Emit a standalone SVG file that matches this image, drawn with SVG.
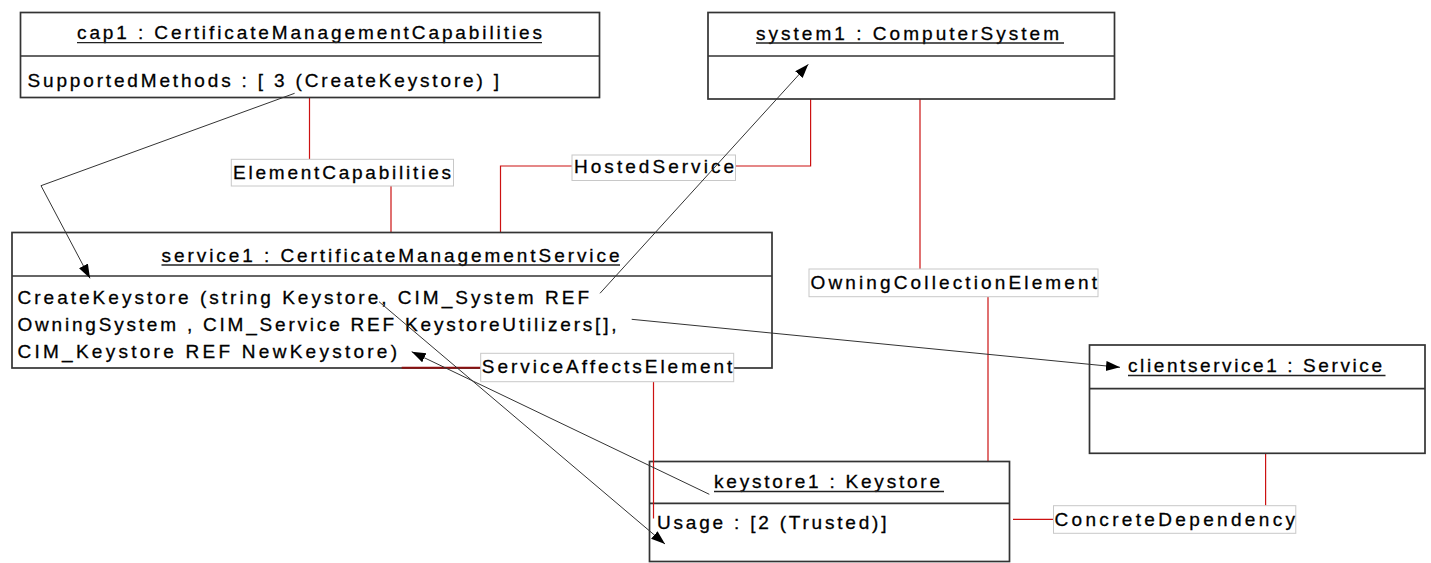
<svg xmlns="http://www.w3.org/2000/svg" width="1431" height="563" viewBox="0 0 1431 563">
  <style>
    text { font-family: "Liberation Sans", Arial, sans-serif; font-size: 19px; fill: #000; stroke: #000; stroke-width: 0.3; }
    .ul { stroke: #222; stroke-width: 1.4; }
    .box { fill: #fff; stroke: #333; stroke-width: 1.7; }
    .div { stroke: #333; stroke-width: 1.7; }
    .lbl { fill: #fff; stroke: #c8c8c8; stroke-width: 1; }
    .assoc { fill: none; stroke: #cc1111; stroke-width: 1.2; }
    .assoc-dark { fill: none; stroke: #8b1010; stroke-width: 2; }
    .flow { fill: none; stroke: #333; stroke-width: 1; marker-end: url(#arrow); }
  </style>
  <defs>
    <marker id="arrow" markerUnits="userSpaceOnUse" markerWidth="16" markerHeight="12" refX="14" refY="5" orient="auto">
      <path d="M0,0 L14,5 L0,10 z" fill="#000"/>
    </marker>
  </defs>

  <rect width="1431" height="563" fill="#fff"/>

  <!-- association lines (drawn under the nodes) -->
  <g id="connectors">
    <!-- ElementCapabilities -->
    <path class="assoc" d="M309.5,97 V159.3"/>
    <path class="assoc" d="M391,186 V232.5"/>
    <!-- HostedService -->
    <path class="assoc" d="M500.5,232.5 V166 H572"/>
    <path class="assoc" d="M735.5,166 H810.6 V99"/>
    <!-- OwningCollectionElement -->
    <path class="assoc" d="M920,99 V269"/>
    <path class="assoc" d="M988,297 V469"/>
    <!-- ConcreteDependency -->
    <path class="assoc" d="M1013,519.3 H1053.5"/>
    <path class="assoc" d="M1265.6,453.3 V505.7"/>
  </g>

  <!-- cap1 -->
  <g id="cap1">
    <rect class="box" x="20.5" y="12.5" width="579" height="85"/>
    <line class="div" x1="20.5" y1="56" x2="599.5" y2="56"/>
    <text x="77" y="39" textLength="465" lengthAdjust="spacing">cap1 : CertificateManagementCapabilities</text>
    <line class="ul" x1="77" y1="42.6" x2="542" y2="42.6"/>
    <text x="27.5" y="87" textLength="471.5" lengthAdjust="spacing">SupportedMethods : [ 3 (CreateKeystore) ]</text>
  </g>

  <!-- system1 -->
  <g id="system1">
    <rect class="box" x="708" y="12.5" width="406.5" height="86.5"/>
    <line class="div" x1="708" y1="56" x2="1114.5" y2="56"/>
    <text x="756" y="39.5" textLength="303" lengthAdjust="spacing">system1 : ComputerSystem</text>
    <line class="ul" x1="756" y1="43" x2="1064" y2="43"/>
  </g>

  <!-- service1 -->
  <g id="service1">
    <rect class="box" x="12" y="232.5" width="760" height="135.5"/>
    <line class="div" x1="12" y1="276" x2="772" y2="276"/>
    <text x="161.5" y="261.5" textLength="458" lengthAdjust="spacing">service1 : CertificateManagementService</text>
    <line class="ul" x1="161.5" y1="265" x2="620" y2="265"/>
    <text x="17.5" y="303.5" textLength="571.5" lengthAdjust="spacing">CreateKeystore (string Keystore, CIM_System REF</text>
    <text x="17.5" y="330.5" textLength="599" lengthAdjust="spacing">OwningSystem , CIM_Service REF KeystoreUtilizers[],</text>
    <text x="17.5" y="357.5" textLength="379.5" lengthAdjust="spacing">CIM_Keystore REF NewKeystore)</text>
  </g>

  <!-- keystore1 -->
  <g id="keystore1">
    <rect class="box" x="649.5" y="461.5" width="360" height="100"/>
    <line class="div" x1="649.5" y1="503.3" x2="1009.5" y2="503.3"/>
    <text x="714" y="488" textLength="226" lengthAdjust="spacing">keystore1 : Keystore</text>
    <line class="ul" x1="714" y1="491.5" x2="944" y2="491.5"/>
    <text x="657" y="529" textLength="229.5" lengthAdjust="spacing">Usage : [2 (Trusted)]</text>
  </g>

  <!-- clientservice1 -->
  <g id="clientservice1">
    <rect class="box" x="1089.5" y="345" width="335.5" height="108.3"/>
    <line class="div" x1="1089.5" y1="388.7" x2="1425" y2="388.7"/>
    <text x="1128" y="372" textLength="254" lengthAdjust="spacing">clientservice1 : Service</text>
    <line class="ul" x1="1128" y1="375.5" x2="1385.5" y2="375.5"/>
  </g>

  <!-- association segments that sit on node edges / cross node bodies -->
  <g id="connectors-top">
    <path class="assoc-dark" d="M401.7,367.7 H480.7"/>
    <path class="assoc" d="M653.5,381.7 V518.5"/>
  </g>

  <!-- association name labels -->
  <g id="label-ElementCapabilities">
    <rect class="lbl" x="231.3" y="159.3" width="222.2" height="26.7"/>
    <text x="233" y="179" textLength="218" lengthAdjust="spacing">ElementCapabilities</text>
  </g>
  <g id="label-HostedService">
    <rect class="lbl" x="572" y="155" width="163.5" height="25.5"/>
    <text x="574" y="172.5" textLength="160" lengthAdjust="spacing">HostedService</text>
  </g>
  <g id="label-OwningCollectionElement">
    <rect class="lbl" x="809" y="269" width="289" height="27.7"/>
    <text x="810.5" y="288.5" textLength="286.5" lengthAdjust="spacing">OwningCollectionElement</text>
  </g>
  <g id="label-ServiceAffectsElement">
    <rect class="lbl" x="480.7" y="353.3" width="253" height="28.4"/>
    <text x="481.8" y="372.7" textLength="250.6" lengthAdjust="spacing">ServiceAffectsElement</text>
  </g>
  <g id="label-ConcreteDependency">
    <rect class="lbl" x="1053.5" y="505.7" width="242.3" height="27.6"/>
    <text x="1054.5" y="525.7" textLength="240.5" lengthAdjust="spacing">ConcreteDependency</text>
  </g>

  <!-- reference arrows -->
  <g id="arrows">
    <polyline class="flow" points="294.6,93.3 41,185.7 90,278.3"/>
    <line class="flow" x1="600" y1="293.3" x2="808.3" y2="64.3"/>
    <line class="flow" x1="631.7" y1="319.3" x2="1120" y2="367.3"/>
    <line class="flow" x1="379" y1="301.7" x2="665" y2="544"/>
    <line class="flow" x1="709.3" y1="494.3" x2="411.7" y2="351.7"/>
  </g>
</svg>
